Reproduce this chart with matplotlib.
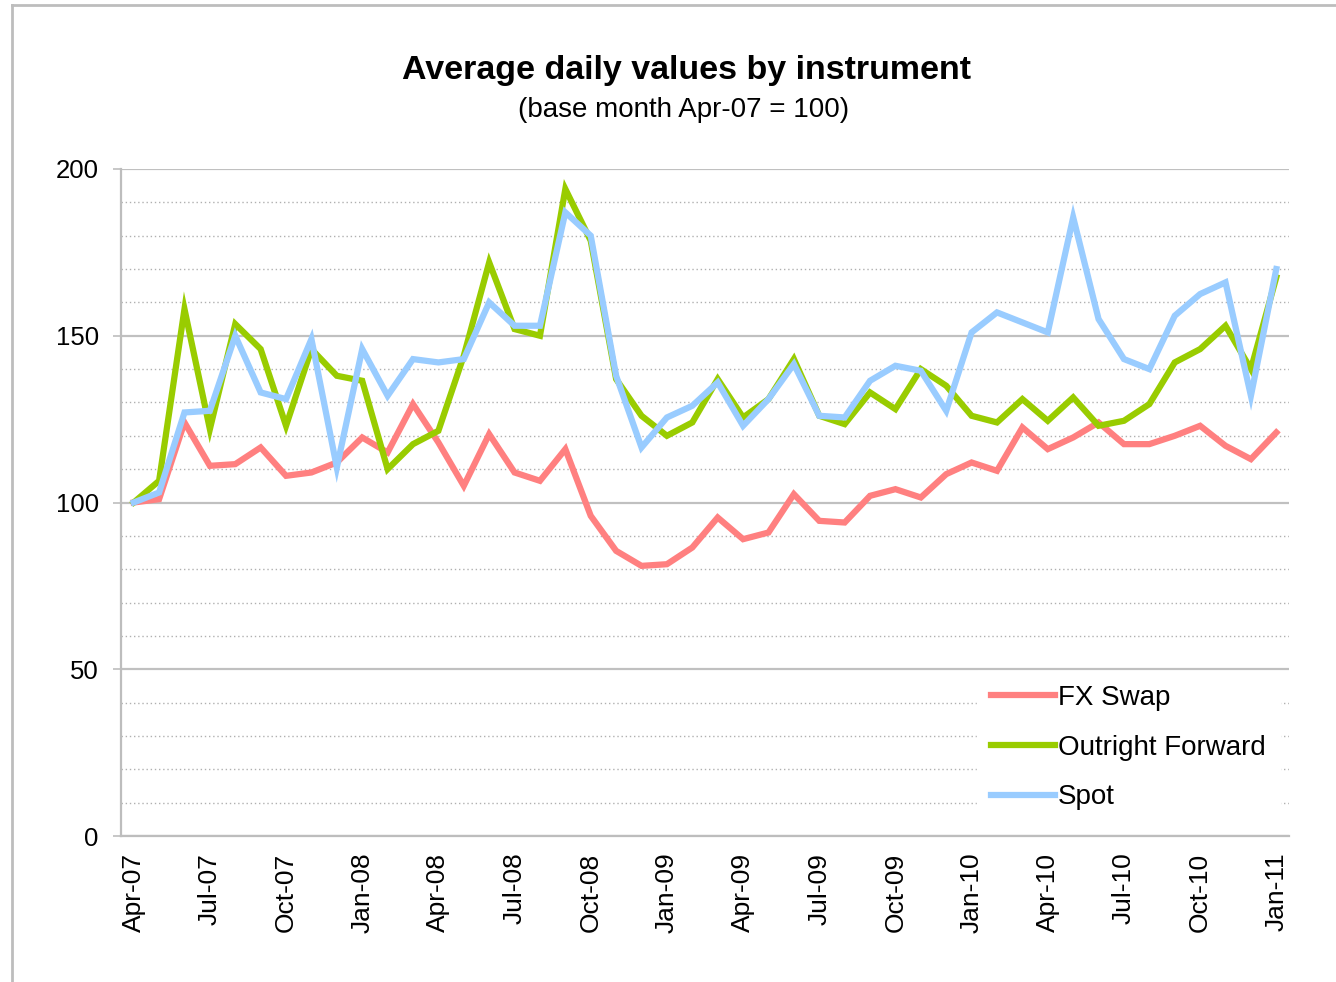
import numpy as np
import matplotlib
matplotlib.use('Agg')
import matplotlib.pyplot as plt
from matplotlib.lines import Line2D

plt.rcParams['font.family'] = ['Liberation Sans', 'DejaVu Sans']

# monthly index values, Apr-07 .. Jan-11 (base month Apr-07 = 100)
months = ['Apr-07', 'May-07', 'Jun-07', 'Jul-07', 'Aug-07', 'Sep-07', 'Oct-07', 'Nov-07', 'Dec-07',
          'Jan-08', 'Feb-08', 'Mar-08', 'Apr-08', 'May-08', 'Jun-08', 'Jul-08', 'Aug-08', 'Sep-08',
          'Oct-08', 'Nov-08', 'Dec-08', 'Jan-09', 'Feb-09', 'Mar-09', 'Apr-09', 'May-09', 'Jun-09',
          'Jul-09', 'Aug-09', 'Sep-09', 'Oct-09', 'Nov-09', 'Dec-09', 'Jan-10', 'Feb-10', 'Mar-10',
          'Apr-10', 'May-10', 'Jun-10', 'Jul-10', 'Aug-10', 'Sep-10', 'Oct-10', 'Nov-10', 'Dec-10',
          'Jan-11']

fx_swap = [100, 101, 124, 111, 111.5, 116.5, 108, 109, 112, 119.5, 115, 129.5, 118, 105, 120.5,
           109, 106.5, 116, 96, 85.5, 81, 81.5, 86.5, 95.5, 89, 91, 102.5, 94.5, 94, 102, 104,
           101.5, 108.5, 112, 109.5, 122.5, 116, 119.5, 124, 117.5, 117.5, 120, 123, 117, 113, 121]

outright_forward = [100, 106.5, 158, 122, 153.5, 146, 123, 146, 138, 136.5, 110, 117.5, 121.5, 144,
                    172, 152, 150, 194, 178.5, 137, 126, 120, 124, 137, 125.5, 131, 143, 126, 123.5,
                    133, 128, 140, 135, 126, 124, 131, 124.5, 131.5, 123, 124.5, 129.5, 142, 146,
                    153, 140, 167.5]

spot = [100, 103, 127, 127.5, 150, 133, 131, 149, 110.5, 146, 132, 143, 142, 143, 160, 153, 153,
        187, 180, 138, 116.5, 125.5, 129, 136, 123, 131, 141.5, 126, 125.5, 136.5, 141, 139.5,
        127.5, 151, 157, 154, 151, 185.5, 155, 143, 140, 156, 162.5, 166, 132, 170]

series_names = ['FX Swap', 'Outright Forward', 'Spot']
series_colors = ['#FF8080', '#99CC00', '#99CCFF']

fig = plt.figure(figsize=(13.36, 9.82), dpi=100)

# outer chart border (top and left edges visible)
fig.add_artist(Line2D([12 / 1336, 1.0], [1 - 5 / 982, 1 - 5 / 982], color='#BDBDBD', lw=2))
fig.add_artist(Line2D([12 / 1336, 12 / 1336], [0, 1 - 5 / 982], color='#BDBDBD', lw=2))

ax = fig.add_axes([121 / 1336, 1 - 836 / 982, (1289 - 121) / 1336, (836 - 169) / 982])

x = np.arange(len(months))
for vals, name, col in zip([fx_swap, outright_forward, spot], series_names, series_colors):
    ax.plot(x, vals, color=col, lw=4.5, label=name, solid_joinstyle='miter', zorder=3)

ax.set_xlim(-0.5, len(months) - 0.5)
ax.set_ylim(0, 200)

# gridlines: solid every 50, dotted every 10
ax.set_yticks([0, 50, 100, 150, 200])
ax.set_yticks(np.arange(10, 200, 10), minor=True)
ax.grid(axis='y', which='major', color='#C0C0C0', lw=1.6, zorder=0)
ax.grid(axis='y', which='minor', color='#B0B0B0', lw=1.0, linestyle=(0, (1, 2)), zorder=0)
ax.tick_params(axis='y', which='minor', length=0)
ax.tick_params(axis='y', which='major', length=6, width=1.2, color='#BDBDBD',
               labelsize=18.5, pad=10)

ax.set_xticks(x[::3])
ax.set_xticklabels(months[::3], rotation=90, fontsize=19)
ax.tick_params(axis='x', length=0, pad=12)

for s in ['top', 'right']:
    ax.spines[s].set_visible(False)
ax.spines['left'].set_color('#BDBDBD')
ax.spines['left'].set_linewidth(1.6)
ax.spines['bottom'].set_color('#BDBDBD')
ax.spines['bottom'].set_linewidth(1.6)

leg = ax.legend(loc='lower right', bbox_to_anchor=(0.992, 0.0175), fontsize=20, frameon=True,
                facecolor='white', edgecolor='white', framealpha=1, fancybox=False,
                handlelength=2.3, handletextpad=0.1, labelspacing=0.85, borderpad=0.5,
                borderaxespad=0)
leg.set_zorder(5)

fig.text(0.5135, 1 - 70 / 982, 'Average daily values by instrument', ha='center', va='center',
         fontsize=24.5, fontweight='bold')
fig.text(0.512, 1 - 110 / 982, '(base month Apr-07 = 100)', ha='center', va='center', fontsize=20)

fig.savefig('out.png', dpi=100)
